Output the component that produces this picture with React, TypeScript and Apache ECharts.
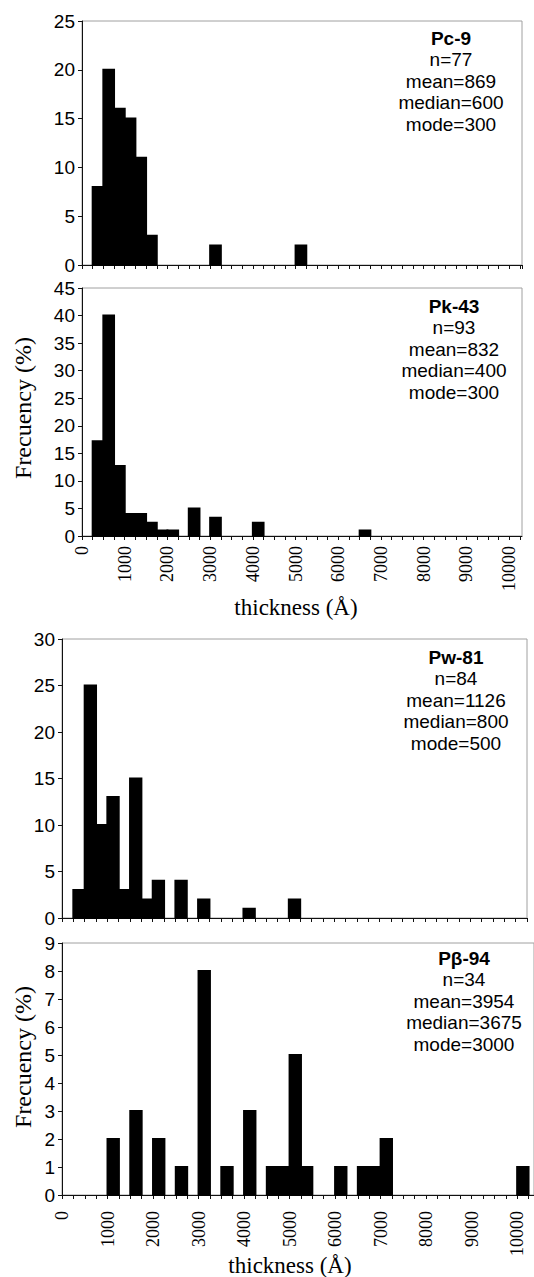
import React, { useEffect, useRef } from "react";
import * as echarts from "echarts";

// ---- data (bin lower edge in Å, bar height) ----
const BIN_WIDTH = 250;

const pc9Bins = [250, 500, 750, 1000, 1250, 1500, 3000, 5000];
const pc9Values = [8, 20, 16, 15, 11, 3, 2, 2];
const pc9Stats = ["Pc-9", "n=77", "mean=869", "median=600", "mode=300"];

const pk43Bins = [250, 500, 750, 1000, 1250, 1500, 1750, 2000, 2500, 3000, 4000, 6500];
const pk43Values = [17.2, 40, 12.7, 4, 4, 2.4, 1, 1, 5, 3.3, 2.4, 1];
const pk43Stats = ["Pk-43", "n=93", "mean=832", "median=400", "mode=300"];

const pw81Bins = [250, 500, 750, 1000, 1250, 1500, 1750, 2000, 2500, 3000, 4000, 5000];
const pw81Values = [3, 25, 10, 13, 3, 15, 2, 4, 4, 2, 1, 2];
const pw81Stats = ["Pw-81", "n=84", "mean=1126", "median=800", "mode=500"];

const pb94Bins = [1000, 1500, 2000, 2500, 3000, 3500, 4000, 4500, 4750, 5000, 5250, 6000, 6500, 6750, 7000, 10000];
const pb94Values = [2, 3, 2, 1, 8, 1, 3, 1, 1, 5, 1, 1, 1, 1, 2, 1];
const pb94Stats = ["P\u03b2-94", "n=34", "mean=3954", "median=3675", "mode=3000"];

const xLabelStep = 1000;
const xTickStep = 250;
const xTitle = "thickness (\u00c5)";
const yTitle = "Frecuency (%)";

const SANS = '"Liberation Sans", Arial, sans-serif';
const SERIF = '"Liberation Serif", "Times New Roman", serif';

const panels = [
  { bins: pc9Bins, values: pc9Values, stats: pc9Stats, yMax: 25, yStep: 5, xMax: 10300,
    grid: { left: 82, top: 21, width: 440, height: 244 }, showXLabels: false, labelMargin: 10,
    annX: 451, annY: 38 },
  { bins: pk43Bins, values: pk43Values, stats: pk43Stats, yMax: 45, yStep: 5, xMax: 10300,
    grid: { left: 82, top: 288, width: 440, height: 248 }, showXLabels: true, labelMargin: 10,
    annX: 454, annY: 306 },
  { bins: pw81Bins, values: pw81Values, stats: pw81Stats, yMax: 30, yStep: 5, xMax: 10250,
    grid: { left: 62, top: 639, width: 465, height: 279 }, showXLabels: false, labelMargin: 10,
    annX: 456, annY: 657 },
  { bins: pb94Bins, values: pb94Values, stats: pb94Stats, yMax: 9, yStep: 1, xMax: 10370,
    grid: { left: 62, top: 943, width: 474, height: 252 }, showXLabels: true, labelMargin: 16,
    annX: 464, annY: 958 },
];

export default function App() {
  const ref = useRef<HTMLDivElement>(null);

  useEffect(() => {
    if (!ref.current) return;
    const chart = echarts.init(ref.current, null, { renderer: "svg" });

    const grids: any[] = [];
    const xAxes: any[] = [];
    const yAxes: any[] = [];
    const series: any[] = [];
    const graphics: any[] = [];

    panels.forEach((p, i) => {
      grids.push({
        ...p.grid,
        show: true,
        borderColor: "#a0a0a0",
        borderWidth: 1,
        backgroundColor: "transparent",
        containLabel: false,
      });
      xAxes.push({
        type: "value",
        gridIndex: i,
        min: 0,
        max: p.xMax,
        interval: xTickStep,
        splitLine: { show: false },
        axisLine: { show: true, onZero: false, lineStyle: { color: "#111", width: 1 } },
        axisTick: { show: true, length: 4, inside: false, lineStyle: { color: "#111" } },
        axisLabel: {
          show: p.showXLabels,
          rotate: 90,
          margin: p.labelMargin,
          fontFamily: SERIF,
          fontSize: 18,
          color: "#000",
          showMaxLabel: false,
          formatter: (v: number) => (v % xLabelStep === 0 ? String(v) : ""),
        },
      });
      yAxes.push({
        type: "value",
        gridIndex: i,
        min: 0,
        max: p.yMax,
        interval: p.yStep,
        splitLine: { show: false },
        axisLine: { show: true, lineStyle: { color: "#111", width: 1 } },
        axisTick: { show: true, length: 4, lineStyle: { color: "#111" } },
        axisLabel: { fontFamily: SANS, fontSize: 19, color: "#000", margin: 7 },
      });
      series.push({
        type: "custom",
        xAxisIndex: i,
        yAxisIndex: i,
        data: p.bins.map((b, k) => [b, b + BIN_WIDTH, p.values[k]]),
        encode: { x: [0, 1], y: 2 },
        renderItem: (params: any, api: any) => {
          const a = api.coord([api.value(0), api.value(2)]);
          const b = api.coord([api.value(1), 0]);
          return {
            type: "rect",
            shape: { x: a[0], y: a[1], width: b[0] - a[0], height: b[1] - a[1] },
            style: { fill: "#000", stroke: "#000", lineWidth: 2 },
          };
        },
      });
      p.stats.forEach((t, k) => {
        graphics.push({
          type: "text",
          x: p.annX,
          y: p.annY + k * 21.6,
          style: {
            text: t,
            fontFamily: SANS,
            fontSize: 19,
            fontWeight: k === 0 ? "bold" : "normal",
            fill: "#000",
            textAlign: "center",
            textVerticalAlign: "middle",
          },
        });
      });
    });

    // axis titles
    graphics.push(
      { type: "text", x: 296, y: 607, style: { text: xTitle, fontFamily: SERIF, fontSize: 23, fill: "#000", textAlign: "center", textVerticalAlign: "middle" } },
      { type: "text", x: 290, y: 1265, style: { text: xTitle, fontFamily: SERIF, fontSize: 23, fill: "#000", textAlign: "center", textVerticalAlign: "middle" } },
      { type: "text", x: 23, y: 408, rotation: Math.PI / 2, style: { text: yTitle, fontFamily: SERIF, fontSize: 24, fill: "#000", textAlign: "center", textVerticalAlign: "middle" } },
      { type: "text", x: 23, y: 1057, rotation: Math.PI / 2, style: { text: yTitle, fontFamily: SERIF, fontSize: 24, fill: "#000", textAlign: "center", textVerticalAlign: "middle" } }
    );

    chart.setOption({
      animation: false,
      backgroundColor: "#fff",
      grid: grids,
      xAxis: xAxes,
      yAxis: yAxes,
      series,
      graphic: graphics,
    });

    return () => chart.dispose();
  }, []);

  return (
    <div
      ref={ref}
      style={{ position: "absolute", left: 0, top: 0, width: 534, height: 1277, background: "#fff" }}
    />
  );
}
